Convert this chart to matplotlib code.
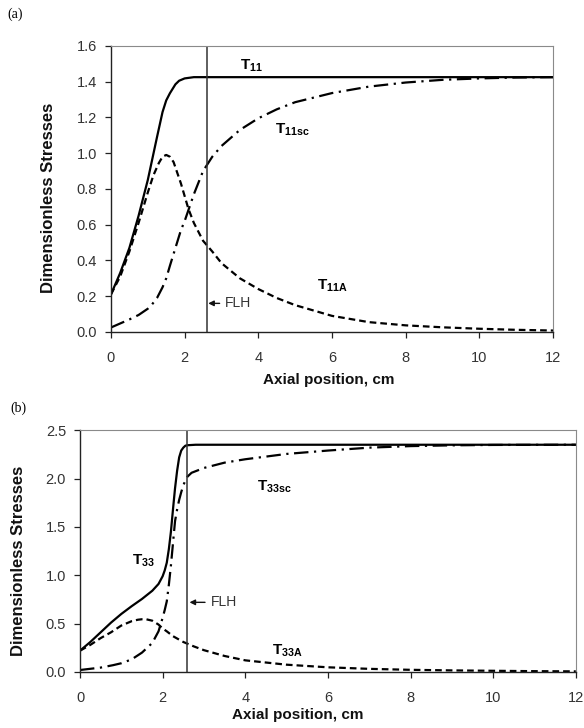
import numpy as np
import matplotlib.pyplot as plt

plt.rcParams['font.family'] = ['Liberation Sans', 'DejaVu Sans']
plt.rcParams['mathtext.fontset'] = 'custom'
plt.rcParams['mathtext.rm'] = 'Liberation Sans'
plt.rcParams['mathtext.bf'] = 'Liberation Sans:bold'

FLH = 2.6

# ---- panel (a) data ----
x11 = [0, 0.25, 0.5, 0.75, 1.0, 1.25, 1.4, 1.5, 1.6, 1.75, 1.85, 2.0, 2.25, 2.5,
       3, 4, 6, 8, 10, 12]
T11 = [0.21, 0.33, 0.47, 0.65, 0.85, 1.09, 1.23, 1.295, 1.335, 1.385, 1.405, 1.418,
       1.425, 1.425, 1.425, 1.425, 1.425, 1.425, 1.425, 1.425]

x11A = [0, 0.25, 0.5, 0.75, 1.0, 1.15, 1.3, 1.4, 1.5, 1.6, 1.7, 1.9, 2.1, 2.25,
        2.5, 2.75, 3.0, 3.5, 4.0, 4.5, 5, 6, 7, 8, 9, 10, 11, 12]
T11A = [0.21, 0.31, 0.45, 0.61, 0.78, 0.875, 0.945, 0.98, 0.99, 0.98, 0.95, 0.83,
        0.69, 0.61, 0.51, 0.45, 0.385, 0.30, 0.24, 0.19, 0.15, 0.09, 0.055, 0.037,
        0.026, 0.018, 0.012, 0.008]

x11sc = [0, 0.5, 0.75, 1.0, 1.1, 1.25, 1.4, 1.5, 1.6, 1.75, 1.9, 2.0, 2.25, 2.5,
         2.75, 3.0, 3.5, 4.0, 4.5, 5, 6, 7, 8, 9, 10, 11, 12]
T11sc = [0.025, 0.07, 0.095, 0.13, 0.15, 0.19, 0.25, 0.30, 0.37, 0.47, 0.57, 0.62,
         0.77, 0.90, 0.98, 1.04, 1.13, 1.195, 1.245, 1.285, 1.336, 1.372, 1.395,
         1.41, 1.418, 1.423, 1.425]

# ---- panel (b) data ----
x33 = [0, 0.25, 0.5, 0.75, 1.0, 1.25, 1.5, 1.75, 1.9, 2.0, 2.05, 2.1, 2.15, 2.2,
       2.25, 2.3, 2.35, 2.4, 2.45, 2.5, 2.55, 2.6, 2.8, 4, 6, 8, 10, 12]
T33 = [0.22, 0.31, 0.41, 0.51, 0.60, 0.68, 0.755, 0.84, 0.91, 0.99, 1.05, 1.13,
       1.27, 1.45, 1.68, 1.90, 2.08, 2.22, 2.29, 2.32, 2.34, 2.345, 2.35, 2.35,
       2.35, 2.35, 2.35, 2.35]

x33A = [0, 0.25, 0.5, 0.75, 1.0, 1.25, 1.4, 1.5, 1.6, 1.75, 1.9, 2.0, 2.1, 2.25,
        2.5, 2.75, 3.0, 3.5, 4, 5, 6, 7, 8, 9, 10, 11, 12]
T33A = [0.22, 0.28, 0.35, 0.41, 0.48, 0.525, 0.54, 0.545, 0.545, 0.53, 0.49, 0.45,
        0.42, 0.37, 0.31, 0.265, 0.225, 0.165, 0.12, 0.075, 0.048, 0.032, 0.022,
        0.016, 0.012, 0.008, 0.006]

x33sc = [0, 0.5, 0.8, 1.0, 1.25, 1.5, 1.75, 1.9, 2.0, 2.05, 2.1, 2.15, 2.2, 2.25,
         2.3, 2.35, 2.4, 2.45, 2.5, 2.55, 2.6, 2.7, 3.0, 3.5, 4, 5, 6, 7, 8, 9,
         10, 12]
T33sc = [0.02, 0.045, 0.07, 0.09, 0.13, 0.20, 0.30, 0.42, 0.56, 0.64, 0.73, 0.90,
         1.10, 1.33, 1.56, 1.68, 1.78, 1.86, 1.93, 1.98, 2.02, 2.06, 2.11, 2.165,
         2.20, 2.255, 2.29, 2.32, 2.336, 2.344, 2.348, 2.35]

fig = plt.figure(figsize=(5.84, 7.28), dpi=100)

dash = (3.0, 1.8)
dashdot = (6.5, 2.5, 1.0, 2.5)
lw = 1.6


def style_axes(ax, ymax, ystep):
    ax.set_xlim(0, 12)
    ax.set_ylim(0, ymax)
    ax.set_xticks(np.arange(0, 13, 2))
    ax.set_yticks(np.arange(0, ymax + 1e-9, ystep))
    ax.yaxis.set_major_formatter(plt.FormatStrFormatter('%.1f'))
    for s in ['top', 'right']:
        ax.spines[s].set_color('#8a8a8a')
        ax.spines[s].set_linewidth(0.8)
    for s in ['left', 'bottom']:
        ax.spines[s].set_color('#222222')
        ax.spines[s].set_linewidth(1.0)
    ax.tick_params(axis='both', direction='out', length=4, width=0.9,
                   color='#222222', labelsize=10.5, labelcolor='#333333')
    ax.tick_params(axis='x', pad=10)
    ax.tick_params(axis='y', pad=6)
    ax.axvline(FLH, color='#333333', lw=1.1)


# (a)
ax1 = fig.add_axes([0.190, 0.544, 0.757, 0.393])
ax1.plot(x11, T11, color='black', lw=lw)
ax1.plot(x11A, T11A, color='black', lw=lw, dashes=dash)
ax1.plot(x11sc, T11sc, color='black', lw=lw, dashes=dashdot)
style_axes(ax1, 1.6, 0.2)
ax1.set_xlabel('Axial position, cm', fontsize=11, fontweight='bold', color='#111111')
ax1.set_ylabel('Dimensionless Stresses', fontsize=12, fontweight='bold', color='#111111')
ax1.xaxis.set_label_coords(0.493, -0.143)
ax1.yaxis.set_label_coords(-0.125, 0.47)
ax1.text(3.5, 1.49, r'$\mathbf{T}_{\mathbf{11}}$', fontsize=11, va='center')
ax1.text(4.45, 1.13, r'$\mathbf{T}_{\mathbf{11sc}}$', fontsize=11, va='center')
ax1.text(5.6, 0.26, r'$\mathbf{T}_{\mathbf{11A}}$', fontsize=11, va='center')
ax1.annotate('FLH', xy=(2.64, 0.16), xytext=(3.1, 0.16), fontsize=10,
             color='#333333', va='center',
             arrowprops=dict(arrowstyle='-|>', color='#111111', lw=1.0,
                             mutation_scale=8, shrinkA=2, shrinkB=0))
fig.text(0.012, 0.989, '(a)', fontsize=10, family='Liberation Serif', va='top')

# (b)
ax2 = fig.add_axes([0.137, 0.077, 0.849, 0.332])
ax2.plot(x33, T33, color='black', lw=lw)
ax2.plot(x33A, T33A, color='black', lw=lw, dashes=dash)
ax2.plot(x33sc, T33sc, color='black', lw=lw, dashes=dashdot)
style_axes(ax2, 2.5, 0.5)
ax2.set_xlabel('Axial position, cm', fontsize=11, fontweight='bold', color='#111111')
ax2.set_ylabel('Dimensionless Stresses', fontsize=12, fontweight='bold', color='#111111')
ax2.xaxis.set_label_coords(0.4385, -0.149)
ax2.yaxis.set_label_coords(-0.109, 0.46)
ax2.text(1.25, 1.15, r'$\mathbf{T}_{\mathbf{33}}$', fontsize=11, va='center')
ax2.text(4.28, 1.92, r'$\mathbf{T}_{\mathbf{33sc}}$', fontsize=11, va='center')
ax2.text(4.64, 0.22, r'$\mathbf{T}_{\mathbf{33A}}$', fontsize=11, va='center')
ax2.annotate('FLH', xy=(2.65, 0.72), xytext=(3.16, 0.72), fontsize=10,
             color='#333333', va='center',
             arrowprops=dict(arrowstyle='-|>', color='#111111', lw=1.0,
                             mutation_scale=8, shrinkA=2, shrinkB=0))
fig.text(0.017, 0.449, '(b)', fontsize=10, family='Liberation Serif', va='top')

fig.savefig('out.png', dpi=100)
